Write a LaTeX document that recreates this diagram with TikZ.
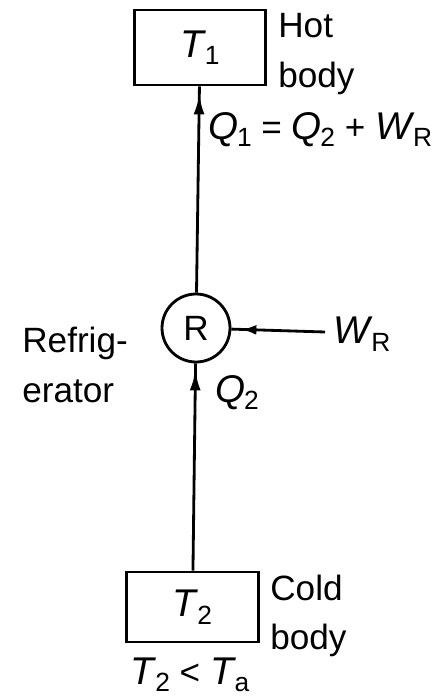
\documentclass[tikz,border=0pt]{standalone}
\usepackage{fontspec}
\setmainfont{Liberation Sans}
\usetikzlibrary{arrows.meta,decorations.markings}
\newcommand\qsym[2]{{\fontsize{22}{22}\selectfont\textit{#1}}\kern-0.04em\raisebox{-0.4ex}{\fontsize{15}{15}\selectfont #2}}

\begin{document}
\begin{tikzpicture}[x=0.02cm,y=-0.02cm,font=\fontsize{20}{28}\selectfont]
\tikzset{
  bodybox/.style={rectangle,draw=black,line width=1.6pt,minimum width=2.63cm,inner sep=0pt},
  machine/.style={circle,draw=black,line width=1.6pt,minimum size=1.36cm,inner sep=0pt},
  wire/.style={draw=black,line width=1.6pt},
  flowto/.style={wire,postaction={decorate},decoration={markings,
    mark=at position -#1 with {\arrow{Latex[length=4mm,width=2.2mm]}}}},
  pushin/.style={wire,postaction={decorate},decoration={markings,
    mark=at position -#1 with {\arrow{Latex[length=3mm,width=2mm]}}}},
  txt/.style={inner sep=0pt,align=left}
}
\useasboundingbox (0,0) rectangle (442,697);
\node[bodybox,minimum height=1.5cm] (n_hot) at (200,47.5) {\qsym{T}{1}};
\node[bodybox,minimum height=1.4cm] (n_cold) at (192.5,607) {\qsym{T}{2}};
\node[machine] (n_R) at (196,328) {R};
\coordinate (w_in) at (325,332);
\node[txt,anchor=west] (t_hot) at (278,54) {Hot\\body};
\node[txt,anchor=base west] (t_q1) at (208,139) {\qsym{Q}{1} = \qsym{Q}{2} + \qsym{W}{R}};
\node[txt,anchor=west] (t_ref) at (22,365) {Refrig-\\erator};
\node[txt,anchor=west] (t_wr) at (333,334) {\qsym{W}{R}};
\node[txt,anchor=base west] (t_q2) at (215,402) {\qsym{Q}{2}};
\node[txt,anchor=west] (t_cold) at (270,616) {Cold\\body};
\node[txt,anchor=base] (t_cmp) at (190,684) {\qsym{T}{2} < \qsym{T}{a}};
\draw[flowto=0.16cm] (n_R) -- (n_hot);
\draw[flowto=0.14cm] (n_cold) -- (n_R);
\draw[pushin=0.2cm] (w_in) -- (n_R);
\end{tikzpicture}
\end{document}
